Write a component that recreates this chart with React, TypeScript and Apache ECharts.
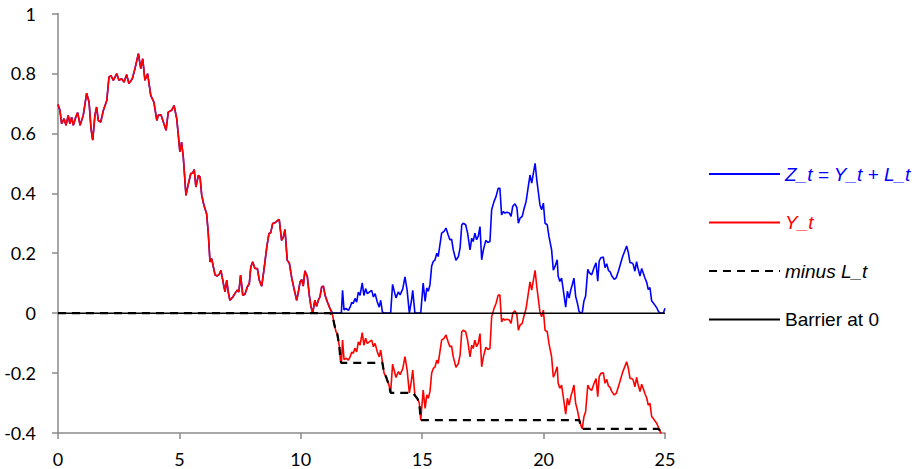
import React, { useEffect, useRef } from "react";
import * as echarts from "echarts";

// Tick labels
const xTicks = [0, 5, 10, 15, 20, 25];
const yTicks = [-0.4, -0.2, 0, 0.2, 0.4, 0.6, 0.8, 1];

// Series names
const seriesNames = ["Z_t = Y_t + L_t", "Y_t", "minus L_t", "Barrier at 0"];
const barrierLevel = 0;

// Y_t path: [t, Y_t]
const yPathPart1: [number, number][] = [
  [0.0, 0.696], [0.08, 0.677], [0.15, 0.632], [0.25, 0.649], [0.33, 0.627], [0.42, 0.66], [0.49, 0.632], [0.56, 0.654],
  [0.63, 0.627], [0.73, 0.654], [0.81, 0.669], [0.91, 0.627], [1.04, 0.66], [1.18, 0.734], [1.28, 0.704], [1.36, 0.616],
  [1.43, 0.577], [1.52, 0.66], [1.59, 0.688], [1.66, 0.643], [1.76, 0.638], [1.87, 0.677], [2.01, 0.71], [2.1, 0.788],
  [2.18, 0.793], [2.28, 0.777], [2.42, 0.799], [2.51, 0.777], [2.62, 0.782], [2.72, 0.771], [2.83, 0.796], [2.92, 0.766],
  [3.06, 0.782], [3.17, 0.816], [3.31, 0.866], [3.41, 0.816], [3.49, 0.849], [3.58, 0.777], [3.69, 0.799], [3.82, 0.727],
  [3.95, 0.704], [4.07, 0.643], [4.13, 0.66], [4.24, 0.662], [4.34, 0.638], [4.45, 0.61], [4.54, 0.671], [4.68, 0.677],
  [4.78, 0.693], [4.89, 0.649], [4.95, 0.599], [5.02, 0.538], [5.09, 0.571], [5.16, 0.521], [5.27, 0.393], [5.37, 0.432],
  [5.47, 0.466], [5.55, 0.468], [5.61, 0.479], [5.68, 0.421], [5.78, 0.46], [5.85, 0.454], [5.92, 0.393], [6.01, 0.36],
  [6.12, 0.332], [6.19, 0.266], [6.26, 0.171], [6.33, 0.182], [6.4, 0.154], [6.47, 0.127], [6.56, 0.124], [6.64, 0.129],
  [6.71, 0.143], [6.81, 0.099], [6.88, 0.071], [6.95, 0.11], [7.01, 0.071], [7.08, 0.043], [7.2, 0.054], [7.29, 0.066],
  [7.38, 0.077], [7.45, 0.071], [7.52, 0.127], [7.61, 0.06], [7.7, 0.063], [7.8, 0.088], [7.88, 0.099], [7.94, 0.154],
  [8.02, 0.171], [8.11, 0.149], [8.21, 0.149], [8.29, 0.11], [8.39, 0.09], [8.48, 0.143], [8.6, 0.221], [8.69, 0.266],
  [8.76, 0.268], [8.84, 0.299], [8.94, 0.302], [9.03, 0.308], [9.11, 0.313], [9.21, 0.243], [9.28, 0.254], [9.35, 0.279],
  [9.44, 0.177], [9.53, 0.166], [9.63, 0.116], [9.72, 0.082], [9.83, 0.043], [9.9, 0.071], [9.97, 0.104], [10.04, 0.112],
  [10.1, 0.09], [10.17, 0.141], [10.27, 0.121], [10.35, 0.06], [10.42, 0.021], [10.49, 0.001], [10.58, 0.043], [10.65, 0.023],
  [10.72, 0.043], [10.79, 0.054], [10.86, 0.088], [10.93, 0.09], [11.0, 0.06], [11.09, 0.038], [11.2, 0.016],
];
const yPathPart2: [number, number][] = [
  [11.31, -0.007], [11.37, -0.034], [11.45, -0.062], [11.5, -0.068], [11.59, -0.112], [11.63, -0.157], [11.67, -0.166],
  [11.72, -0.09], [11.78, -0.155], [11.86, -0.15], [11.96, -0.157], [12.03, -0.146], [12.1, -0.13], [12.16, -0.134],
  [12.23, -0.117], [12.3, -0.129], [12.37, -0.096], [12.44, -0.107], [12.53, -0.065], [12.6, -0.107], [12.67, -0.084],
  [12.74, -0.101], [12.82, -0.096], [12.92, -0.09], [12.99, -0.112], [13.06, -0.101], [13.15, -0.129], [13.23, -0.146],
  [13.29, -0.123], [13.36, -0.162], [13.43, -0.2], [13.51, -0.212], [13.63, -0.24], [13.7, -0.266], [13.78, -0.17],
  [13.84, -0.19], [13.92, -0.215], [14.02, -0.195], [14.09, -0.205], [14.2, -0.185], [14.29, -0.145], [14.38, -0.19],
  [14.47, -0.266], [14.56, -0.223], [14.61, -0.19], [14.7, -0.275], [14.8, -0.285], [14.88, -0.3], [14.94, -0.357],
];
const yPathPart3: [number, number][] = [
  [15.04, -0.257], [15.12, -0.318], [15.19, -0.273], [15.25, -0.284], [15.32, -0.262], [15.39, -0.2], [15.46, -0.184],
  [15.53, -0.179], [15.6, -0.157], [15.66, -0.168], [15.8, -0.09], [15.9, -0.084], [15.98, -0.073], [16.07, -0.096],
  [16.14, -0.112], [16.21, -0.11], [16.28, -0.146], [16.39, -0.181], [16.49, -0.168], [16.56, -0.14], [16.63, -0.062],
  [16.69, -0.057], [16.79, -0.062], [16.87, -0.09], [16.97, -0.146], [17.04, -0.107], [17.1, -0.118], [17.17, -0.09],
  [17.24, -0.112], [17.31, -0.1], [17.38, -0.068], [17.45, -0.179], [17.52, -0.146], [17.62, -0.114], [17.7, -0.121],
  [17.79, -0.118], [17.86, -0.012], [17.96, 0.016], [18.04, 0.032], [18.13, 0.06], [18.2, 0.06], [18.27, -0.029],
  [18.34, -0.018], [18.41, -0.023], [18.49, -0.02], [18.59, -0.023], [18.66, -0.034], [18.73, 0], [18.82, 0.008],
  [18.9, -0.005], [18.96, -0.057], [19.03, -0.04], [19.12, -0.034], [19.2, -0.007], [19.28, 0.016], [19.37, 0.066],
  [19.44, 0.104], [19.51, 0.077], [19.58, 0.11], [19.65, 0.143], [19.72, 0.088], [19.78, 0.049], [19.85, 0.004],
  [19.92, -0.012], [19.99, 0.01],
];
const yPathPart4: [number, number][] = [
  [20.06, -0.057], [20.15, -0.062], [20.22, -0.101], [20.33, -0.146], [20.4, -0.214], [20.47, -0.201], [20.56, -0.179],
  [20.6, -0.234], [20.67, -0.251], [20.74, -0.24], [20.81, -0.279], [20.91, -0.337], [20.98, -0.284], [21.05, -0.307],
  [21.12, -0.279], [21.18, -0.262], [21.25, -0.24], [21.32, -0.301], [21.39, -0.323], [21.46, -0.351], [21.53, -0.373],
  [21.59, -0.386], [21.66, -0.346], [21.73, -0.329], [21.82, -0.24], [21.88, -0.251], [21.98, -0.258], [22.08, -0.234],
  [22.16, -0.218], [22.23, -0.279], [22.29, -0.212], [22.36, -0.201], [22.46, -0.199], [22.53, -0.234], [22.6, -0.221],
  [22.67, -0.243], [22.74, -0.248], [22.81, -0.262], [22.91, -0.273], [22.99, -0.268], [23.08, -0.246], [23.18, -0.218],
  [23.26, -0.196], [23.35, -0.177], [23.42, -0.162], [23.49, -0.184], [23.56, -0.218], [23.63, -0.218], [23.69, -0.223],
  [23.76, -0.246], [23.83, -0.214], [23.88, -0.234], [23.97, -0.262], [24.04, -0.237], [24.1, -0.251], [24.17, -0.268],
  [24.25, -0.284], [24.31, -0.307], [24.38, -0.301], [24.45, -0.345], [24.52, -0.352], [24.59, -0.36], [24.66, -0.368],
  [24.72, -0.379], [24.79, -0.392], [24.86, -0.407], [24.93, -0.418], [25.0, -0.402],
];

const yPath = [...yPathPart1, ...yPathPart2, ...yPathPart3, ...yPathPart4];

export default function App() {
  const ref = useRef<HTMLDivElement>(null);
  useEffect(() => {
    if (!ref.current) return;
    const chart = echarts.init(ref.current, null, { renderer: "svg" });

    // minus L_t: running minimum of Y_t (capped at 0); Z_t = Y_t + L_t
    let runMin = 0;
    const minusL = yPath.map(([t, y]) => {
      runMin = Math.min(runMin, y);
      return [t, runMin];
    });
    const zPath = yPath.map(([t, y], i) => [t, y - minusL[i][1]]);
    const barrier = [
      [xTicks[0], barrierLevel],
      [xTicks[xTicks.length - 1], barrierLevel],
    ];

    const axisFont = { fontFamily: "Lato, 'Open Sans', sans-serif", fontSize: 18, color: "#000" };
    const legendFont = "'Liberation Sans', Arial, sans-serif";

    chart.setOption({
      animation: false,
      backgroundColor: "#ffffff",
      grid: { left: 58, right: 251, top: 13.5, bottom: 36, containLabel: false },
      legend: {
        orient: "vertical",
        left: 708,
        top: 164,
        padding: 0,
        itemWidth: 71,
        itemHeight: 14,
        itemGap: 28.5,
        selectedMode: false,
        itemStyle: { opacity: 0 },
        textStyle: { fontFamily: legendFont, fontSize: 19, lineHeight: 20 },
        data: [
          { name: seriesNames[0], textStyle: { color: "#0000ff", fontStyle: "italic" } },
          { name: seriesNames[1], textStyle: { color: "#ff0000", fontStyle: "italic" } },
          { name: seriesNames[2], textStyle: { color: "#000000", fontStyle: "italic" } },
          { name: seriesNames[3], textStyle: { color: "#000000", fontStyle: "normal" } },
        ],
      },
      xAxis: {
        type: "value",
        min: 0,
        max: 25,
        interval: 5,
        axisLine: { show: true, onZero: false, lineStyle: { color: "#8a8a8a", width: 1.5 } },
        axisTick: { show: true, length: 6, lineStyle: { color: "#8a8a8a", width: 1.5 } },
        axisLabel: { ...axisFont, margin: 17, formatter: (v: number) => String(v) },
        splitLine: { show: false },
      },
      yAxis: {
        type: "value",
        min: yTicks[0],
        max: yTicks[yTicks.length - 1],
        interval: 0.2,
        axisLine: { show: true, onZero: false, lineStyle: { color: "#8a8a8a", width: 1.5 } },
        axisTick: { show: true, length: 6, lineStyle: { color: "#8a8a8a", width: 1.5 } },
        axisLabel: {
          ...axisFont,
          margin: 22,
          formatter: (v: number) => String(Math.round(v * 10) / 10),
        },
        splitLine: { show: false },
      },
      series: [
        {
          name: seriesNames[0],
          type: "line",
          data: zPath,
          symbol: "none",
          lineStyle: { color: "#0000ff", width: 1.6 },
          itemStyle: { color: "#0000ff" },
          z: 2,
        },
        {
          name: seriesNames[1],
          type: "line",
          data: yPath,
          symbol: "none",
          lineStyle: { color: "#ff0000", width: 1.6 },
          itemStyle: { color: "#ff0000" },
          z: 3,
        },
        {
          name: seriesNames[2],
          type: "line",
          data: minusL,
          symbol: "none",
          lineStyle: { color: "#000000", width: 2.2, type: [8, 6] },
          itemStyle: { color: "#000000" },
          z: 4,
        },
        {
          name: seriesNames[3],
          type: "line",
          data: barrier,
          symbol: "none",
          lineStyle: { color: "#000000", width: 1.5 },
          itemStyle: { color: "#000000" },
          z: 5,
        },
      ],
    });
    return () => chart.dispose();
  }, []);
  return (
    <div
      ref={ref}
      style={{ position: "absolute", left: 0, top: 0, width: 916, height: 469 }}
    />
  );
}
